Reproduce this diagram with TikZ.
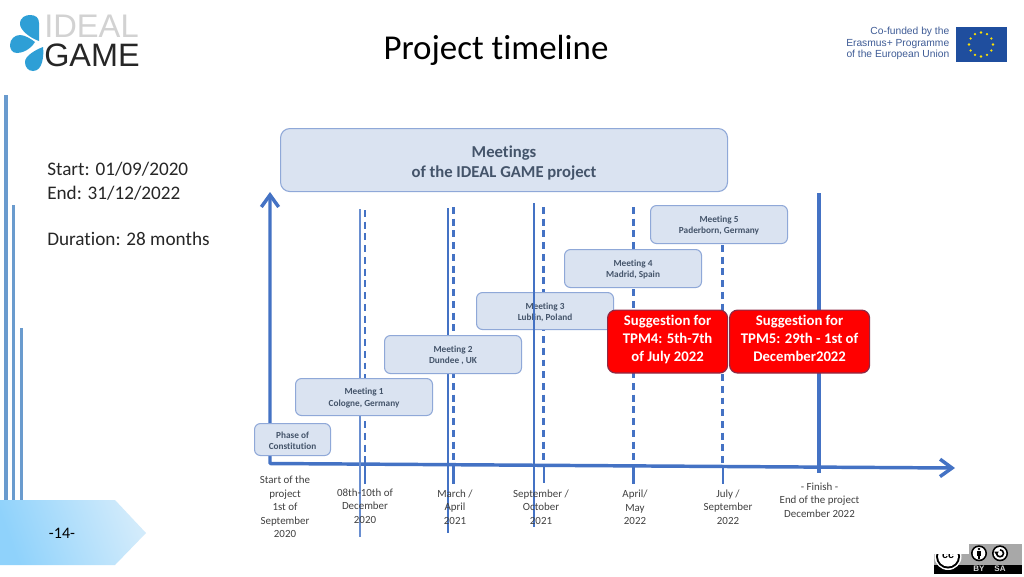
\documentclass[tikz,border=0pt]{standalone}
\usepackage{fontspec}
\setmainfont[Ligatures=NoCommon]{Carlito}
\newfontfamily\arialf{Liberation Sans}
\usetikzlibrary{arrows.meta}
\definecolor{boxfill}{HTML}{DAE3F1}
\definecolor{boxline}{HTML}{8FA8D8}
\definecolor{axisblue}{HTML}{4472C4}
\definecolor{stripe}{HTML}{6A9BCE}
\definecolor{txtdark}{HTML}{404040}
\definecolor{boxtxt}{HTML}{44546A}
\definecolor{redbox}{HTML}{FF0000}
\definecolor{redline}{HTML}{8E2A45}
\definecolor{eublue}{HTML}{1F4E9E}
\definecolor{eutxt}{HTML}{3F5C96}
\definecolor{dropblue}{HTML}{2E9FD6}
\definecolor{tabl}{HTML}{8FD2FB}
\definecolor{tabr}{HTML}{D2EBFB}
\definecolor{ccgray}{HTML}{A8A8A8}
\tikzset{
  x=0.75pt,y=-0.75pt,
  meetbox/.style={draw=boxline,line width=0.8pt,fill=boxfill,rounded corners=4.5pt,inner sep=0pt,align=center,text=boxtxt,font=\fontsize{6.95}{8.4}\selectfont\bfseries},
  redcard/.style={draw=redline,line width=0.9pt,fill=redbox,rounded corners=6pt,inner sep=0pt,align=center,text=white,font=\fontsize{11.05}{13.5}\selectfont\bfseries},
  axisline/.style={draw=axisblue,line width=2.6pt,line join=round},
  solidrule/.style={color=axisblue,solid},
  dashline/.style={draw=axisblue,dash pattern=on 5.2pt off 3.6pt},
  tick/.style={draw=axisblue},
  datelabel/.style={align=center,text=txtdark,inner sep=0pt,font=\fontsize{8.2}{10.1}\selectfont},
  stripebar/.style={fill=stripe},
  plain/.style={inner sep=0pt,anchor=west,text=black},
}
\newcommand{\boxat}[6]{\node[meetbox,#1,minimum width=#4*0.75pt,minimum height=#5*0.75pt,anchor=north west] (#2) at #3 {#6};}
\newcommand{\up}{\rule{0pt}{6.4pt}}
\begin{document}
\begin{tikzpicture}
\useasboundingbox (0,0) rectangle (1024,576);
\fill[white] (0,0) rectangle (1024,576);
% left stripes
\fill[stripebar] (4,95) rectangle (7.5,500);
\fill[stripebar] (12,205) rectangle (15,500);
\fill[stripebar] (20,328) rectangle (23,500);
\shade[left color=tabl,right color=tabr,shading angle=110]
  (0,500) -- (115,500) -- (146,533) -- (115,565) -- (0,565) -- cycle;
\node[inner sep=0pt,font=\fontsize{12}{14}\selectfont] (pg) at (62,533) {-14-};
% logo
\fill[dropblue] (39,41) .. controls (30,38) and (20,30) .. (20,24) .. controls (20,17) and (26,15) .. (30,15) .. controls (36,15) and (39,18) .. (39,23) -- cycle;
\fill[dropblue] (35,42) .. controls (30,50) and (22,53) .. (17,53) .. controls (12,53) and (10,49) .. (10,45) .. controls (10,39) and (15,35) .. (20,35) .. controls (25,35) and (31,39) .. (35,42) -- cycle;
\fill[dropblue] (43,47) .. controls (44,55) and (43,71) .. (33,71) .. controls (28,71) and (25,67) .. (25,62) .. controls (25,56) and (35,50) .. (43,47) -- cycle;
\node[inner sep=0pt,anchor=base west,text=gray!35,font=\arialf\fontsize{24.5}{26}\selectfont] (logoa) at (44,37.5) {IDEAL};
\node[inner sep=0pt,anchor=base west,text=black!85,font=\arialf\fontsize{24.3}{26}\selectfont] (logob) at (44,66.5) {GAME};
% title
\node[inner sep=0pt,font=\fontsize{26.2}{30}\selectfont,text=black] (title) at (496,50) {Project timeline};
% EU
\node[inner sep=0pt,align=right,anchor=east,text=eutxt,font=\arialf\fontsize{7.7}{8.8}\selectfont] (eu) at (949.5,43.5) {Co-funded by the\\Erasmus+ Programme\\of the European Union};
\fill[eublue] (955.5,27) rectangle (1007,62);
\foreach \a in {0,30,...,330}{\fill[yellow!85!orange] (981+12*cos \a,44.5+12*sin \a) circle (1.3);}
% CC badge
\fill[ccgray] (969,543.5) rectangle (1021.5,565);
\fill[ccgray] (933.5,554) rectangle (969,565);
\fill[black] (933.5,564.5) rectangle (1021.5,573.5);
\begin{scope}
\clip (933,554) rectangle (969,573.5);
\fill[white] (948,556.5) circle (13.5);
\fill[black] (948,556.5) circle (12);
\fill[white] (948,556.5) circle (10);
\node[inner sep=0pt,font=\arialf\bfseries\fontsize{8}{8}\selectfont] (cc) at (948,556) {cc};
\end{scope}
\fill[black] (979,553.3) circle (8);
\fill[black] (1000,553.3) circle (8);
\fill[white] (979,553.3) circle (6.3);
\fill[white] (1000,553.3) circle (6.3);
\fill[black] (979,549) circle (1.4);
\fill[black] (976.8,551) rectangle (981.2,555.5);
\fill[black] (977.8,555.5) rectangle (980.2,559);
\draw[black,line width=1.2pt] (1000,549.8) arc[start angle=-90,end angle=180,radius=3.5];
\fill[black] (994.2,551.6) -- (998.8,551.6) -- (996.5,555) -- cycle;
\node[inner sep=0pt,text=gray!30,font=\arialf\bfseries\fontsize{6}{6}\selectfont] (by) at (979,569) {BY};
\node[inner sep=0pt,text=gray!30,font=\arialf\bfseries\fontsize{6}{6}\selectfont] (sa) at (1000,569) {SA};
% left text
\node[plain,font=\fontsize{14.4}{17.3}\selectfont,text=black!85,align=left] (info) at (47,204) {Start: 01/09/2020\\End: 31/12/2022\\[17.3pt]Duration: 28 months};
% axis coordinates
\coordinate (org) at (270,463.5);
\coordinate (top) at (270,192);
\coordinate (end) at (955,468);
\foreach \n/\xx/\ya/\yb/\wa/\wb in {a/364.5/210/484/1.5/1.5,b/453.5/207/484/1.7/1.9,c/543.5/207/483/1.7/1.5,d/633.5/207/484/1.9/1.6,e/722.5/245/484/1.9/1.5}{
  \coordinate (\n top) at (\xx,\ya);
  \coordinate (\n mid) at (\xx,464.5);
  \coordinate (\n bot) at (\xx,\yb);
  \draw[dashline,line width=\wa pt] (\n top) -- (\n mid);
  \draw[tick,line width=\wb pt] (\n mid) -- (\n bot);
}
\coordinate (ftop) at (819,193);
\coordinate (fbot) at (819,473);
\draw[draw=axisblue,line width=2.4pt] (ftop) -- (fbot);
\draw[axisline,{Straight Barb[length=9pt,width=13pt,line width=2.6pt]}-{Straight Barb[length=9pt,width=13pt,line width=2.6pt]}] (top) -- (org) -- (end);
% thin solid lines behind the two lower boxes
\coordinate (onea) at (359.8,209); \coordinate (oneb) at (359.8,537);
\coordinate (twoa) at (447.8,208); \coordinate (twob) at (447.8,533);
\coordinate (thra) at (534,203);   \coordinate (thrb) at (534,527);
\draw[solidrule,color=axisblue!80!white,line width=1.5pt] (onea) -- (oneb);
\draw[solidrule,line width=1.5pt] (twoa) -- (twob);
% boxes
\boxat{font=\fontsize{12.5}{15.4}\selectfont\bfseries,rounded corners=7pt}{meetings}{(280,128)}{447}{63}{\rule{0pt}{13pt}Meetings\\of the IDEAL GAME project}
\boxat{}{m5}{(650,205)}{137}{38}{\up Meeting 5\\Paderborn, Germany}
\boxat{}{m4}{(564,249)}{137}{38}{\up Meeting 4\\Madrid, Spain}
\boxat{}{m3}{(476,292)}{137}{37}{\up Meeting 3\\Lublin, Poland}
\boxat{}{m2}{(384,335)}{137}{38}{\up Meeting 2\\Dundee , UK}
\boxat{}{m1}{(295,378)}{137}{37}{\up Meeting 1\\Cologne, Germany}
\boxat{}{ph}{(254,423)}{76}{32}{\up Phase of\\Constitution}
\draw[solidrule,line width=1.5pt] (thra) -- (thrb);
% red cards
\node[redcard,minimum width=90pt,minimum height=47.2pt,anchor=north west] (r1) at (607,309.5) {Suggestion for\\TPM4: 5th-7th\\of July 2022\rule[-4.5pt]{0pt}{0pt}};
\node[redcard,minimum width=105pt,minimum height=47.2pt,anchor=north west] (r2) at (729,309.5) {Suggestion for\\TPM5: 29th - 1st of\\December2022\rule[-4.5pt]{0pt}{0pt}};
% date labels
\node[datelabel] (d0) at (285,507) {Start of the\\project\\1st of\\September\\2020};
\node[datelabel] (d1) at (365,506) {08th-10th of\\December\\2020};
\node[datelabel] (d2) at (455,507) {March /\\April\\2021};
\node[datelabel] (d3) at (541,507) {September /\\October\\2021};
\node[datelabel] (d4) at (635,507.5) {April/\\May\\2022};
\node[datelabel] (d5) at (728,507) {July /\\September\\2022};
\node[datelabel] (d6) at (819.5,500) {- Finish -\\End of the project\\December 2022};
\end{tikzpicture}
\end{document}
